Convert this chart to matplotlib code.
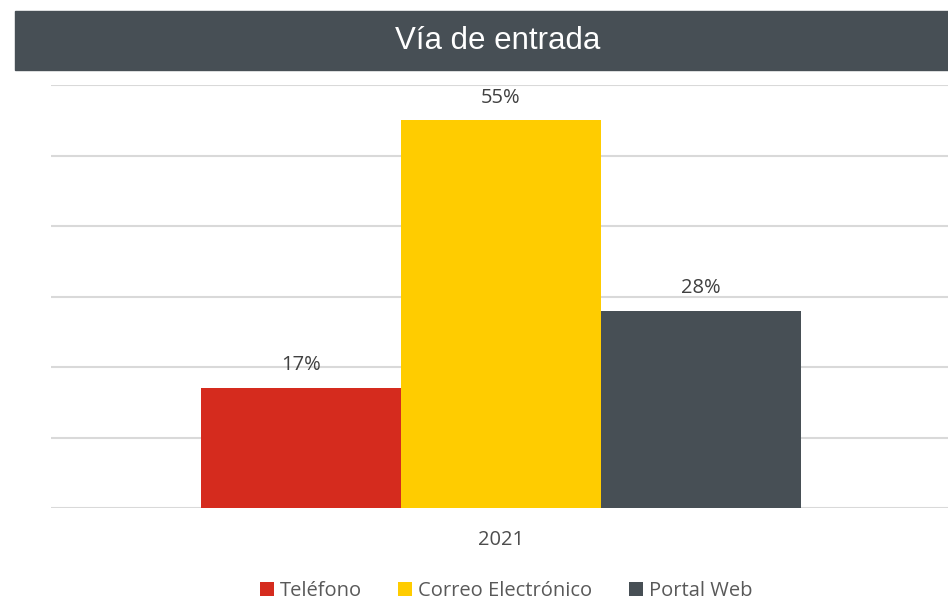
import matplotlib.pyplot as plt
from matplotlib.patches import Rectangle

categories = ['Teléfono', 'Correo Electrónico', 'Portal Web']
values = [0.17, 0.55, 0.28]
colors = ['#D52B1E', '#FFCC00', '#474F55']
year_label = '2021'
title = 'Vía de entrada'

plt.rcParams['font.family'] = ['Open Sans', 'DejaVu Sans']

fig = plt.figure(figsize=(9.48, 6.02), dpi=100)

# title banner
fig.patches.append(Rectangle((15 / 948, 1 - 70 / 602), 1 - 15 / 948, 59 / 602,
                             transform=fig.transFigure, color='#474F55', zorder=0))
fig.text(498 / 948, 1 - 41 / 602, title, ha='center', va='center', color='white',
         fontsize=22.5, family=['Liberation Sans', 'DejaVu Sans'])

ax = fig.add_axes([51 / 948, 94 / 602, 1 - 51 / 948, (508 - 85) / 602])
x = [-1, 0, 1]
bars = ax.bar(x, values, width=1.0, color=colors, zorder=2)
for xi, v in zip(x, values):
    ax.text(xi, v + 0.018, f'{round(v * 100)}%', ha='center', va='bottom',
            fontsize=14.5, color='#404040')

ax.set_xlim(-2.25, 2.235)
ax.set_ylim(0, 0.6)
ax.set_yticks([0, 0.1, 0.2, 0.3, 0.4, 0.5, 0.6])
ax.yaxis.grid(True, color='#D9D9D9', linewidth=1.5, zorder=0)
ax.set_axisbelow(True)
ax.tick_params(left=False, labelleft=False, bottom=False)
ax.set_xticks([0])
ax.set_xticklabels([year_label], fontsize=14.5, color='#4D4D4D')
ax.tick_params(axis='x', pad=12)
for s in ax.spines.values():
    s.set_visible(False)

fig.legend(bars, categories, loc='center', bbox_to_anchor=(506 / 948, 1 - 591 / 602),
           ncol=3, frameon=False, fontsize=14.5, labelcolor='#595959',
           handlelength=0.7, handleheight=0.7, handletextpad=0.3, columnspacing=1.8)

fig.savefig('out.png', dpi=100)
